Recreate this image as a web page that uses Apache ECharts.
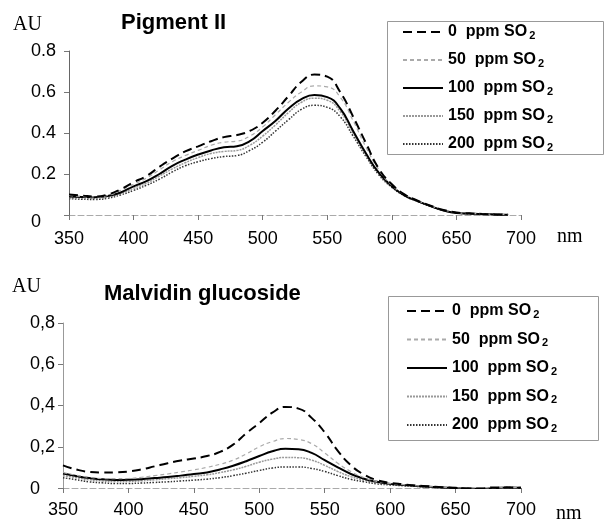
<!DOCTYPE html>
<html>
<head>
<meta charset="utf-8">
<title>Pigment II / Malvidin glucoside</title>
<script src="https://cdn.jsdelivr.net/npm/echarts@6/dist/echarts.min.js"></script>
<style>
	html, body { margin: 0; padding: 0; background: #fff; }
	#chart { width: 605px; height: 521px; }
</style>
</head>
<body>
<div id="chart"></div>
<script>
// wavelengths (nm)
var nmTop = [350,360,370,380,390,400,410,420,430,440,450,460,470,480,490,500,510,520,530,540,550,560,570,580,590,600,610,620,630,640,650,660,670,680,690];
var nmBottom = [350,360,370,380,390,400,410,420,430,440,450,460,470,480,490,500,510,520,530,540,550,560,570,580,590,600,610,620,630,640,650,660,670,680,690,700];

var seriesNames = ['0 ppm SO2', '50 ppm SO2', '100 ppm SO2', '150 ppm SO2', '200 ppm SO2'];
var xTicks = [350, 400, 450, 500, 550, 600, 650, 700];
var yTicks = [0, 0.2, 0.4, 0.6, 0.8];

// Pigment II
var pig0 = [.10,.095,.09,.10,.125,.16,.19,.235,.275,.31,.335,.36,.38,.39,.41,.45,.51,.58,.65,.685,.675,.60,.48,.35,.225,.15,.10,.07,.045,.025,.012,.008,.005,.003,.002];
var pig50 = [.095,.09,.088,.095,.12,.15,.18,.22,.26,.29,.315,.34,.355,.36,.385,.43,.49,.55,.60,.63,.625,.575,.46,.33,.22,.145,.10,.07,.045,.025,.012,.008,.005,.003,.002];
var pig100 = [.09,.088,.087,.093,.11,.14,.165,.20,.24,.27,.295,.315,.33,.335,.36,.41,.46,.52,.565,.585,.575,.52,.41,.30,.205,.14,.095,.068,.043,.022,.01,.007,.004,.003,.001];
var pig150 = [.085,.082,.082,.088,.105,.13,.155,.19,.225,.255,.28,.30,.31,.315,.34,.385,.44,.50,.55,.57,.56,.505,.40,.295,.205,.14,.095,.067,.043,.022,.01,.007,.004,.003,.001];
var pig200 = [.08,.077,.076,.082,.098,.12,.145,.175,.21,.24,.26,.275,.285,.29,.315,.355,.41,.465,.515,.535,.525,.48,.385,.285,.195,.135,.093,.066,.042,.022,.01,.006,.004,.002,.001];

// Malvidin glucoside
var mal0 = [.11,.09,.078,.075,.076,.08,.09,.105,.12,.133,.143,.155,.175,.21,.265,.315,.365,.393,.385,.34,.27,.18,.11,.065,.038,.025,.018,.012,.008,.004,.001,-.003,-.002,.003,.002,.001];
var mal50 = [.075,.062,.052,.046,.045,.046,.052,.06,.068,.078,.088,.10,.115,.135,.165,.20,.225,.24,.235,.215,.17,.12,.08,.05,.032,.022,.016,.011,.007,.004,.001,-.003,-.004,0,.002,.001];
var mal100 = [.07,.058,.048,.042,.039,.04,.043,.048,.053,.06,.068,.075,.09,.108,.13,.155,.178,.19,.188,.17,.135,.10,.068,.045,.03,.02,.015,.01,.006,.003,0,-.003,-.004,-.001,.002,.001];
var mal150 = [.06,.05,.04,.034,.031,.032,.035,.04,.045,.05,.057,.064,.075,.088,.105,.125,.14,.148,.147,.135,.11,.08,.055,.038,.025,.018,.013,.009,.005,.002,0,-.004,-.004,-.001,.002,.001];
var mal200 = [.05,.04,.03,.025,.022,.022,.024,.027,.03,.034,.038,.043,.05,.06,.072,.085,.097,.102,.102,.095,.08,.06,.042,.03,.02,.015,.011,.008,.004,.002,0,-.003,-.005,-.001,.002,.001];

var styles = [
	{ color: '#000', width: 2, type: [9, 5] },
	{ color: '#aaa', width: 1.2, type: [4, 3] },
	{ color: '#000', width: 2, type: 'solid' },
	{ color: '#999', width: 1.5, type: [2, 1] },
	{ color: '#333', width: 1.5, type: [1.5, 1.5] }
];

function zip(xs, ys) {
	var out = [];
	for (var i = 0; i < xs.length; i++) {
		out.push([xs[i], ys[i]]);
	}
	return out;
}

function makeSeries(name, xs, ys, idx, k) {
	return {
		name: name,
		type: 'line',
		xAxisIndex: idx,
		yAxisIndex: idx,
		smooth: true,
		symbol: 'none',
		silent: true,
		lineStyle: styles[k],
		itemStyle: { color: styles[k].color },
		data: zip(xs, ys),
		z: 10 - k
	};
}

function xAxisOf(idx, margin) {
	return {
		gridIndex: idx,
		type: 'value',
		min: xTicks[0],
		max: xTicks[xTicks.length - 1],
		interval: 50,
		splitLine: { show: false },
		axisLine: { onZero: false, lineStyle: { color: '#aaa', width: 1, type: [6, 3] } },
		axisTick: { length: 5, lineStyle: { color: '#777' } },
		axisLabel: { margin: margin, color: '#000', fontSize: 18, fontFamily: 'Liberation Sans' }
	};
}

function yAxisOf(idx, margin, sep, zeroPad) {
	return {
		gridIndex: idx,
		type: 'value',
		min: yTicks[0],
		max: yTicks[yTicks.length - 1],
		interval: 0.2,
		splitLine: { show: false },
		axisLine: { show: true, lineStyle: { color: idx == 0 ? '#666' : '#999', width: 1 } },
		axisTick: { show: true, length: 5, lineStyle: { color: '#777' } },
		axisLabel: {
			margin: margin,
			align: 'left',
			color: '#000',
			fontSize: 18,
			fontFamily: 'Liberation Sans',
			formatter: function (v) {
				if (v == 0) return '{z|0}';
				return v.toFixed(1).replace('.', sep);
			},
			rich: { z: { fontSize: 18, fontFamily: 'Liberation Sans', color: '#000', padding: [zeroPad, 0, 0, 0] } }
		}
	};
}

function legendOf(left, top, gap, pad) {
	return {
		left: left,
		top: top,
		orient: 'vertical',
		itemWidth: 40,
		itemHeight: 14,
		itemGap: gap,
		padding: pad,
		selectedMode: false,
		data: seriesNames,
		itemStyle: { opacity: 0 },
		formatter: function (name) {
			return '{a|' + name.replace(' ppm SO2', '  ppm SO') + '}{s|2}';
		},
		textStyle: {
			rich: {
				a: { fontSize: 16, lineHeight: 18, fontWeight: 'bold', fontFamily: 'Liberation Sans', color: '#000' },
				s: { fontSize: 11, lineHeight: 11, verticalAlign: 'bottom', fontWeight: 'bold', fontFamily: 'Liberation Sans', color: '#000', padding: [0, 0, 0, 2] }
			}
		}
	};
}

var series = [];
var pigAll = [pig0, pig50, pig100, pig150, pig200];
var malAll = [mal0, mal50, mal100, mal150, mal200];
for (var k = 0; k < 5; k++) {
	series.push(makeSeries(seriesNames[k], nmTop, pigAll[k], 0, k));
	series.push(makeSeries(seriesNames[k], nmBottom, malAll[k], 1, k));
}

var serif = 'Liberation Serif';
var option = {
	animation: false,
	backgroundColor: '#fff',
	grid: [
		{ left: 69, right: 84, top: 51, bottom: 306 },
		{ left: 63, right: 84, top: 323, bottom: 33 }
	],
	xAxis: [xAxisOf(0, 15), xAxisOf(1, 13)],
	yAxis: [yAxisOf(0, 38, '.', 14), yAxisOf(1, 33, ',', 3)],
	legend: [legendOf(387, 21, 11, [3, 10, 4, 15]), legendOf(388, 296, 11.5, [7, 10, 5, 18])],
	graphic: [
		{ type: 'rect', shape: { x: 387.5, y: 21.5, width: 216, height: 133 }, style: { fill: 'none', stroke: '#999', lineWidth: 1 }, z: 1 },
		{ type: 'rect', shape: { x: 388.5, y: 296.5, width: 210, height: 144 }, style: { fill: 'none', stroke: '#999', lineWidth: 1 }, z: 1 },
		{ type: 'text', left: 13, top: 15, style: { text: 'AU', font: '20px "' + serif + '"', fill: '#000' } },
		{ type: 'text', left: 557, top: 227, style: { text: 'nm', font: '20px "' + serif + '"', fill: '#000' } },
		{ type: 'text', left: 121, top: 12, style: { text: 'Pigment II', font: 'bold 22px "Liberation Sans"', fill: '#000' } },
		{ type: 'text', left: 12, top: 277, style: { text: 'AU', font: '20px "' + serif + '"', fill: '#000' } },
		{ type: 'text', left: 104, top: 283, style: { text: 'Malvidin glucoside', font: 'bold 22px "Liberation Sans"', fill: '#000' } },
		{ type: 'text', left: 556, top: 504, style: { text: 'nm', font: '20px "' + serif + '"', fill: '#000' } }
	],
	series: series
};

var myChart = echarts.init(document.getElementById('chart'));
myChart.setOption(option);
</script>
</body>
</html>
